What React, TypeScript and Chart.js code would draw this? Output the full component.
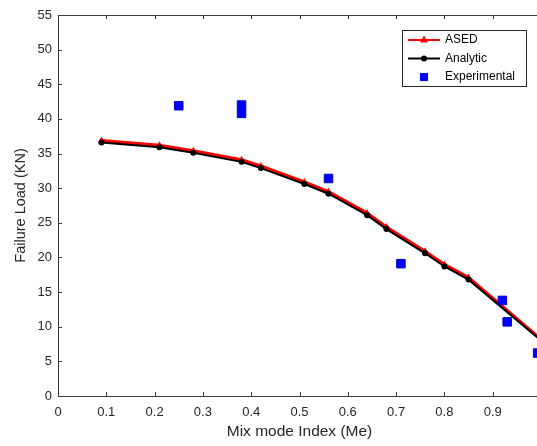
import React, { useEffect, useRef } from "react";
import { Chart, registerables } from "chart.js";

Chart.register(...registerables);

// ---- data ----
const modeIndex = [0.09, 0.21, 0.28, 0.38, 0.42, 0.51, 0.56, 0.64, 0.68, 0.76, 0.8, 0.85, 1.0];
const asedLoad = [36.9, 36.2, 35.4, 34.1, 33.2, 30.9, 29.5, 26.4, 24.4, 20.9, 19.0, 17.1, 8.2];
const analyticLoad = [36.6, 35.9, 35.1, 33.8, 32.9, 30.6, 29.2, 26.1, 24.1, 20.6, 18.7, 16.8, 8.0];
const expIndex = [0.25, 0.38, 0.38, 0.56, 0.71, 0.92, 0.93, 0.993];
const expLoad = [41.9, 42.0, 40.8, 31.4, 19.1, 13.8, 10.7, 6.2];
const xTickValues = [0, 0.1, 0.2, 0.3, 0.4, 0.5, 0.6, 0.7, 0.8, 0.9, 1.0];
const xTickLabels = ["0", "0.1", "0.2", "0.3", "0.4", "0.5", "0.6", "0.7", "0.8", "0.9", "1"];
const yTickValues = [0, 5, 10, 15, 20, 25, 30, 35, 40, 45, 50, 55];
const seriesNames = ["ASED", "Analytic", "Experimental"];
const xTitle = "Mix mode Index (Me)";
const yTitle = "Failure Load (KN)";

const FONT = "'Liberation Sans', Arial, sans-serif";
const AXIS = "#3c3c3c";
const TEXT = "#262626";

const framePlugin = {
  id: "matlabFrame",
  afterDraw(chart: any) {
    const { ctx, chartArea: a, scales } = chart;
    const xs = scales.x;
    const ys = scales.y;
    ctx.save();
    ctx.strokeStyle = AXIS;
    ctx.lineWidth = 1;
    ctx.beginPath();
    ctx.rect(Math.round(a.left) + 0.5, Math.round(a.top) + 0.5, Math.round(a.right - a.left), Math.round(a.bottom - a.top));
    ctx.stroke();
    const tl = 4;
    ctx.beginPath();
    xTickValues.forEach((v) => {
      const px = Math.round(xs.getPixelForValue(v)) + 0.5;
      ctx.moveTo(px, a.bottom);
      ctx.lineTo(px, a.bottom - tl);
      ctx.moveTo(px, a.top);
      ctx.lineTo(px, a.top + tl);
    });
    yTickValues.forEach((v) => {
      const py = Math.round(ys.getPixelForValue(v)) + 0.5;
      ctx.moveTo(a.left, py);
      ctx.lineTo(a.left + tl, py);
      ctx.moveTo(a.right, py);
      ctx.lineTo(a.right - tl, py);
    });
    ctx.stroke();

    // legend
    const bx = 402.5, by = 30.5, bw = 124, bh = 56;
    ctx.fillStyle = "#ffffff";
    ctx.fillRect(bx, by, bw, bh);
    ctx.strokeStyle = "#262626";
    ctx.strokeRect(bx, by, bw, bh);
    const rows = [40, 58.5, 77];
    const x0 = 408, x1 = 440;
    const cx = 424;
    ctx.font = "12px " + FONT;
    ctx.textBaseline = "middle";
    ctx.textAlign = "left";
    // ASED
    ctx.strokeStyle = "#ff0000";
    ctx.lineWidth = 2;
    ctx.beginPath();
    ctx.moveTo(x0, rows[0]);
    ctx.lineTo(x1, rows[0]);
    ctx.stroke();
    ctx.fillStyle = "#ff0000";
    ctx.beginPath();
    ctx.moveTo(cx, rows[0] - 4.5);
    ctx.lineTo(cx + 4, rows[0] + 2.5);
    ctx.lineTo(cx - 4, rows[0] + 2.5);
    ctx.closePath();
    ctx.fill();
    // Analytic
    ctx.strokeStyle = "#000000";
    ctx.beginPath();
    ctx.moveTo(x0, rows[1]);
    ctx.lineTo(x1, rows[1]);
    ctx.stroke();
    ctx.fillStyle = "#000000";
    ctx.beginPath();
    ctx.arc(cx, rows[1], 3, 0, Math.PI * 2);
    ctx.fill();
    // Experimental
    ctx.fillStyle = "#0000ff";
    ctx.fillRect(cx - 4, rows[2] - 4, 8, 8);
    ctx.fillStyle = "#000000";
    seriesNames.forEach((n, i) => ctx.fillText(n, 445, rows[i]));
    ctx.restore();
  },
};

export default function App() {
  const ref = useRef<HTMLCanvasElement | null>(null);
  useEffect(() => {
    if (!ref.current) return;
    const chart = new Chart(ref.current, {
      type: "scatter",
      data: {
        datasets: [
          {
            label: seriesNames[2],
            data: expIndex.map((x, i) => ({ x, y: expLoad[i] })),
            showLine: false,
            pointStyle: "rect",
            pointRadius: 6,
            pointBackgroundColor: "#0000ff",
            pointBorderColor: "#0000c8",
            pointBorderWidth: 1,
            order: 0,
            clip: false as any,
          },
          {
            label: seriesNames[1],
            data: modeIndex.map((x, i) => ({ x, y: analyticLoad[i] })),
            showLine: true,
            borderColor: "#000000",
            borderWidth: 2,
            pointStyle: "circle",
            pointRadius: 3,
            pointBackgroundColor: "#000000",
            pointBorderColor: "#000000",
            pointBorderWidth: 0,
            order: 1,
          },
          {
            label: seriesNames[0],
            data: modeIndex.map((x, i) => ({ x, y: asedLoad[i] })),
            showLine: true,
            borderColor: "#ff0000",
            borderWidth: 3,
            pointStyle: "triangle",
            pointRadius: 4,
            pointBackgroundColor: "#ff0000",
            pointBorderColor: "#ff0000",
            pointBorderWidth: 0,
            order: 2,
          },
        ],
      },
      options: {
        animation: false,
        responsive: false,
        maintainAspectRatio: false,
        layout: { autoPadding: false, padding: { top: 15, right: 0, left: 0, bottom: 0 } },
        plugins: { legend: { display: false }, tooltip: { enabled: false } },
        scales: {
          x: {
            type: "linear",
            min: 0,
            max: 1,
            grid: { display: false, drawTicks: false },
            border: { display: false },
            afterBuildTicks: (s: any) => {
              s.ticks = xTickValues.slice(0, 10).map((v) => ({ value: v }));
            },
            afterFit: (s: any) => {
              s.height = 50;
              s.paddingLeft = 0;
              s.paddingRight = 0;
            },
            ticks: {
              padding: 9,
              color: TEXT,
              font: { family: FONT, size: 13 },
              maxRotation: 0,
              callback: (v: any) => {
                const i = xTickValues.findIndex((t) => Math.abs(t - v) < 1e-6);
                return i >= 0 ? xTickLabels[i] : "";
              },
            },
            title: {
              display: true,
              text: xTitle,
              color: TEXT,
              font: { family: FONT, size: 15.5 },
              padding: { top: 0, bottom: 5 },
            },
          },
          y: {
            type: "linear",
            min: 0,
            max: 55,
            grid: { display: false, drawTicks: false },
            border: { display: false },
            afterBuildTicks: (s: any) => {
              s.ticks = yTickValues.map((v) => ({ value: v }));
            },
            afterFit: (s: any) => {
              s.width = 58;
              s.paddingTop = 0;
              s.paddingBottom = 0;
            },
            ticks: {
              padding: 6,
              color: TEXT,
              font: { family: FONT, size: 13 },
              callback: (v: any) => String(v),
            },
            title: {
              display: true,
              text: yTitle,
              color: TEXT,
              font: { family: FONT, size: 14.5 },
              padding: { top: 12, bottom: 0 },
            },
          },
        },
      },
      plugins: [framePlugin],
    });
    return () => chart.destroy();
  }, []);
  return (
    <div style={{ position: "fixed", left: 0, top: 0, width: 537, height: 446, overflow: "hidden", background: "#fff" }}>
      <div style={{ width: 541, height: 446 }}>
        <canvas ref={ref} width={541} height={446} style={{ width: 541, height: 446, display: "block" }} />
      </div>
    </div>
  );
}
